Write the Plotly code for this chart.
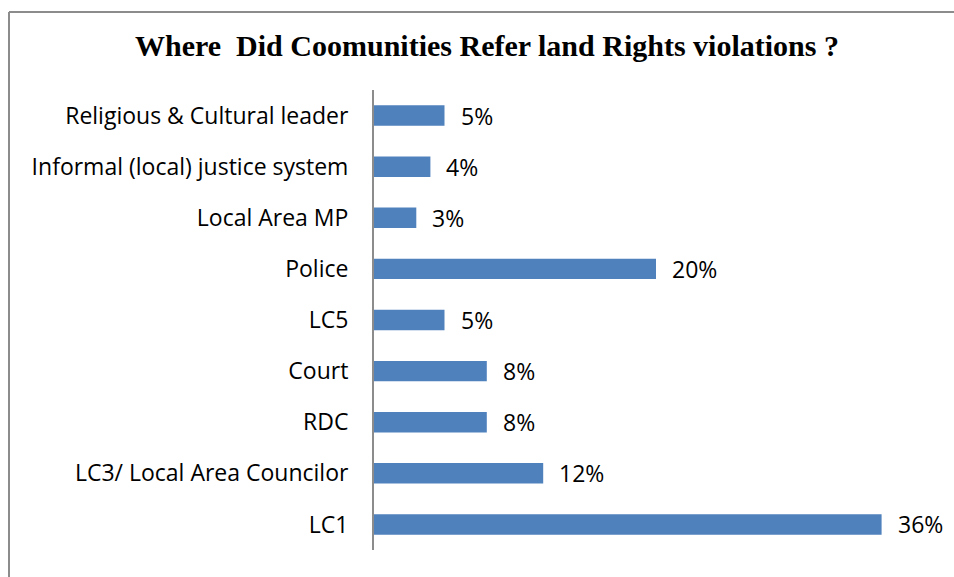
import plotly.graph_objects as go

# Where communities referred land rights violations (share of responses, %)
categories = [
    "LC1",
    "LC3/ Local Area Councilor",
    "RDC",
    "Court",
    "LC5",
    "Police",
    "Local Area MP",
    "Informal (local) justice system",
    "Religious & Cultural leader",
]
values = [36, 12, 8, 8, 5, 20, 3, 4, 5]
value_labels = [f"{v}%" for v in values]

BAR_COLOR = "#4F81BD"
FRAME_COLOR = "#8C8C8C"
LABEL_FONT = "'Open Sans', Lato, Arial, sans-serif"

W, H = 954, 577
ML, MR, MT, MB = 374, 16, 90, 27
plot_w = W - ML - MR
plot_h = H - MT - MB

fig = go.Figure(
    go.Bar(
        x=values,
        y=categories,
        orientation="h",
        marker=dict(color=BAR_COLOR, line=dict(width=0)),
        hoverinfo="skip",
    )
)

# value labels just past the end of each bar
for cat, v, lab in zip(categories, values, value_labels):
    fig.add_annotation(
        x=v, y=cat, text=lab, showarrow=False,
        xanchor="left", yanchor="middle", xshift=14,
        font=dict(family=LABEL_FONT, size=23, color="#000000"),
    )

# outer chart frame (left and top edges)
def px_to_paper_x(px):
    return (px - ML) / plot_w

def px_to_paper_y(py):
    return (H - MB - py) / plot_h

fx = px_to_paper_x(9)
fy = px_to_paper_y(12)
fig.add_shape(type="line", xref="paper", yref="paper",
              x0=fx, x1=fx, y0=px_to_paper_y(H + 5), y1=fy,
              line=dict(color=FRAME_COLOR, width=2))
fig.add_shape(type="line", xref="paper", yref="paper",
              x0=fx, x1=px_to_paper_x(W + 5), y0=fy, y1=fy,
              line=dict(color=FRAME_COLOR, width=2))

fig.update_layout(
    width=W, height=H,
    margin=dict(l=ML, r=MR, t=MT, b=MB),
    paper_bgcolor="white", plot_bgcolor="white",
    bargap=0.6,
    showlegend=False,
    title=dict(
        text="<b>Where  Did Coomunities Refer land Rights violations ?</b>",
        x=487 / W, xanchor="center", y=1 - 45 / H, yanchor="middle",
        font=dict(family="'Liberation Serif', 'DejaVu Serif', serif", size=30, color="#000000"),
    ),
    xaxis=dict(range=[0, 40], visible=False, fixedrange=True),
    yaxis=dict(
        categoryorder="array", categoryarray=categories,
        showline=True, linecolor=FRAME_COLOR, linewidth=2,
        showgrid=False, zeroline=False, ticks="",
        ticklabelstandoff=19,
        tickfont=dict(family=LABEL_FONT, size=23, color="#000000"),
        fixedrange=True,
    ),
)

fig.write_html("out.html")
